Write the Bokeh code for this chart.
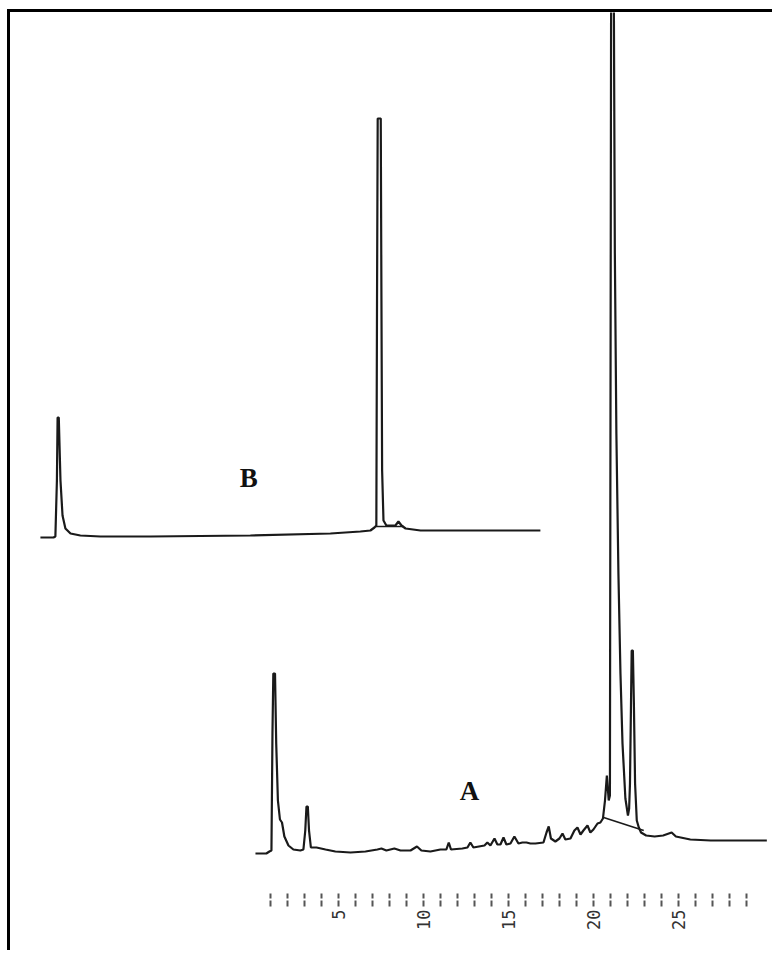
import math
from bokeh.plotting import figure
from bokeh.models import Range1d, LinearAxis, FixedTicker, Label
from bokeh.embed import file_html
from bokeh.resources import INLINE

# ---- Chromatogram A (sample): retention time [min], detector signal [a.u.]
a_time = [0.12, 0.76, 0.94, 1.06, 1.12, 1.17, 1.27, 1.34, 1.44, 1.56, 1.68, 1.82, 2.06, 2.35,
          2.76, 2.94, 3.05, 3.12, 3.2, 3.27, 3.38, 3.71, 4.24, 4.82, 5.71, 6.59, 7.29, 7.53, 7.82,
          8.29, 8.65, 9.24, 9.62, 9.88, 10.41, 11.0, 11.35, 11.49, 11.62, 12.29, 12.59, 12.76,
          12.94, 13.59, 13.76, 13.94, 14.18, 14.35, 14.53, 14.71, 14.88, 15.12, 15.35, 15.59,
          15.82, 16.06, 16.29, 16.59, 17.06, 17.24, 17.37, 17.5, 17.76, 18.0, 18.18, 18.35,
          18.65, 18.88, 19.06, 19.24, 19.41, 19.65, 19.82, 20.0, 20.24, 20.41, 20.56, 20.68,
          20.79, 20.9, 20.97, 21.0, 21.04, 21.2, 21.26, 21.35, 21.47, 21.59, 21.71, 21.88,
          22.03, 22.1, 22.15, 22.21, 22.25, 22.32, 22.38, 22.45, 22.55, 22.67, 22.8, 23.1, 23.6,
          24.1, 24.6, 24.85, 25.7, 26.9, 28.1, 30.2]
a_signal = [0, 0, 2, 3, 120, 180, 180, 110, 53, 34, 31, 17, 8, 4,
            3, 4, 23, 47, 47, 23, 6, 6, 4, 2, 1, 2, 4, 5, 3,
            5, 3, 3, 7, 3, 2, 4, 4, 11, 4, 5, 6, 11,
            6, 8, 11, 8, 15, 9, 9, 16, 9, 10, 17, 10,
            11, 11, 10, 10, 11, 21, 27, 15, 12, 15, 20, 14,
            15, 23, 26, 19, 23, 28, 21, 24, 30, 31, 35, 53,
            78, 53, 58, 400, 860, 860, 600, 420, 280, 180, 110, 55,
            38, 45, 70, 150, 203, 203, 150, 70, 33, 26, 21, 18, 17,
            18, 21, 17, 14, 13, 13, 13]
a_base_time = [20.6, 22.96]
a_base_signal = [36, 23]

# ---- Chromatogram B (standard)
b_time = [0.04, 0.81, 0.92, 1.01, 1.05, 1.12, 1.22, 1.34, 1.51, 1.81, 2.39, 3.57, 6.51,
          12.39, 17.1, 18.86, 19.45, 19.69, 19.8, 19.84, 19.88, 20.06, 20.1, 20.14, 20.22,
          20.39, 20.92, 21.1, 21.28, 21.52, 22.4, 24.16, 27.1, 29.45]
b_signal = [0, 0, 1, 57, 120, 120, 57, 22, 9, 4, 2, 1, 1,
            2, 4, 6, 7, 10, 12, 237, 419, 419, 237, 67, 17,
            12, 12, 16, 12, 9, 7, 7, 7, 7]
b_base_time = [19.75, 21.4]
b_base_signal = [11, 11]

tick_minutes = list(range(1, 30))
tick_labels = {5: "5", 10: "10", 15: "15", 20: "20", 25: "25"}

assert len(a_time) == len(a_signal) and len(b_time) == len(b_signal)

p = figure(width=765, height=941, output_backend="svg", toolbar_location=None,
           x_range=Range1d(-14.29, 30.71), y_range=Range1d(-40, 841),
           x_axis_location=None, y_axis_location=None,
           min_border_left=0, min_border_right=0, min_border_top=0, min_border_bottom=60)
p.extra_x_ranges = {"b": Range1d(-1.72, 43.28)}
p.extra_y_ranges = {"b": Range1d(-356, 525)}
p.grid.visible = False
p.outline_line_color = None
p.background_fill_color = "white"
p.border_fill_color = "white"
p.styles = {"border-left": "3px solid black", "border-top": "3px solid black",
            "margin-left": "7px", "margin-top": "9px"}

line_col = "#1a1a1a"
p.line(a_time, a_signal, line_color=line_col, line_width=2.2)
p.line(a_base_time, a_base_signal, line_color=line_col, line_width=1.7)
p.line(b_time, b_signal, line_color=line_col, line_width=2.2, x_range_name="b", y_range_name="b")
p.line(b_base_time, b_base_signal, line_color=line_col, line_width=1.5, x_range_name="b", y_range_name="b")

p.add_layout(Label(x=12.29, y=59.7, text="B", x_range_name="b", y_range_name="b",
                   text_font="Liberation Serif", text_font_style="bold", text_font_size="27px",
                   text_align="center", text_baseline="middle", text_color="#111111"))
p.add_layout(Label(x=12.71, y=62.3, text="A",
                   text_font="Liberation Serif", text_font_style="bold", text_font_size="27px",
                   text_align="center", text_baseline="middle", text_color="#111111"))

ax = LinearAxis(ticker=FixedTicker(ticks=tick_minutes),
                major_label_overrides={m: tick_labels.get(m, "") for m in tick_minutes},
                axis_line_color=None, major_tick_in=0, major_tick_out=13,
                major_tick_line_width=2, major_tick_line_color="#555555",
                major_tick_line_dash="6 2",
                minor_tick_line_color=None, major_label_orientation=math.pi / 2,
                major_label_text_font="DejaVu Sans Mono", major_label_text_font_size="17px",
                major_label_text_color="#333333", major_label_standoff=3)
p.add_layout(ax, "below")

open("out.html", "w").write(file_html(p, INLINE))
